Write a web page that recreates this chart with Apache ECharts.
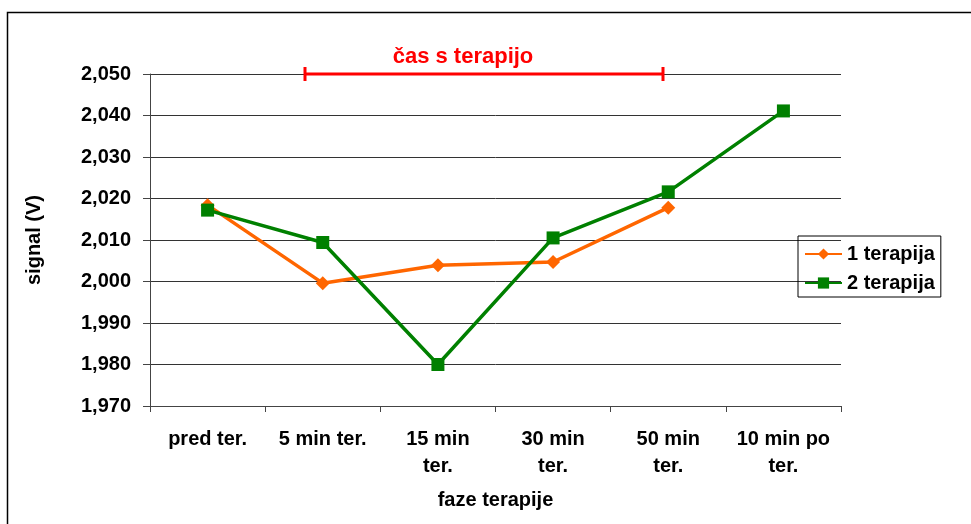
<!DOCTYPE html>
<html><head><meta charset="utf-8">
<script src="https://cdn.jsdelivr.net/npm/echarts@6/dist/echarts.min.js"></script>
<style>html,body{margin:0;padding:0;background:#fff}#c{width:971px;height:524px}</style>
</head><body><div id="c"></div>
<script>
var categories = ['pred ter.', '5 min ter.', '15 min\nter.', '30 min\nter.', '50 min\nter.', '10 min po\nter.'];
var series1Name = '1 terapija';
var series1 = [2.0184, 1.9996, 2.0039, 2.0047, 2.0178, null];
var series2Name = '2 terapija';
var series2 = [2.0172, 2.0094, 1.9800, 2.0105, 2.0216, 2.0411];
var yTicks = {min: 1.97, max: 2.05, interval: 0.01};
var annotationText = 'čas s terapijo';

var chart = echarts.init(document.getElementById('c'), null, {renderer: 'canvas'});
var font = 'Liberation Sans, Arial, sans-serif';
chart.setOption({
  animation: false,
  backgroundColor: '#fff',
  grid: {left: 150, right: 130, top: 74, bottom: 118, containLabel: false},
  legend: {
    orient: 'vertical', left: 798, top: 236,
    borderColor: '#000', borderWidth: 1, padding: [8, 6, 4, 6],
    itemWidth: 37, itemHeight: 14, itemGap: 9, itemTextGap: 6,
    textStyle: {fontFamily: font, fontWeight: 'bold', fontSize: 20, color: '#000', width: 96, overflow: 'none'},
    data: [series1Name, series2Name]
  },
  xAxis: {
    type: 'category', data: categories, boundaryGap: true,
    name: 'faze terapije', nameLocation: 'middle', nameGap: 84,
    nameTextStyle: {fontFamily: font, fontWeight: 'bold', fontSize: 20, color: '#000'},
    axisLine: {lineStyle: {color: '#444', width: 1}},
    axisTick: {show: true, length: 6, lineStyle: {color: '#444'}},
    axisLabel: {fontFamily: font, fontWeight: 'bold', fontSize: 20, color: '#000', margin: 20, lineHeight: 27, interval: 0}
  },
  yAxis: {
    type: 'value', min: yTicks.min, max: yTicks.max, interval: yTicks.interval,
    name: 'signal (V)', nameLocation: 'middle', nameGap: 106, nameRotate: 90,
    nameTextStyle: {fontFamily: font, fontWeight: 'bold', fontSize: 20, color: '#000'},
    axisLine: {show: true, lineStyle: {color: '#444', width: 1}},
    axisTick: {show: true, length: 7, inside: false, lineStyle: {color: '#444'}},
    splitLine: {show: true, lineStyle: {color: '#333', width: 1}},
    axisLabel: {fontFamily: font, fontWeight: 'bold', fontSize: 20, color: '#000', margin: 19,
      formatter: function (v) { return v.toFixed(3).replace('.', ','); }}
  },
  series: [
    {name: series1Name, type: 'line', data: series1, symbol: 'diamond', symbolSize: 14,
     lineStyle: {color: '#FF6600', width: 3.5}, itemStyle: {color: '#FF6600'}, z: 2},
    {name: series2Name, type: 'line', data: series2, symbol: 'rect', symbolSize: 13,
     lineStyle: {color: '#008000', width: 3.5}, itemStyle: {color: '#008000'}, z: 3}
  ],
  graphic: [
    {type: 'rect', shape: {x: 7.5, y: 12.5, width: 1000, height: 600}, style: {fill: 'none', stroke: '#000', lineWidth: 1.5}, silent: true},
    {type: 'line', shape: {x1: 305, y1: 74, x2: 663, y2: 74}, style: {stroke: '#FF0000', lineWidth: 3}, z: 10},
    {type: 'line', shape: {x1: 305, y1: 67, x2: 305, y2: 81}, style: {stroke: '#FF0000', lineWidth: 3}, z: 10},
    {type: 'line', shape: {x1: 663, y1: 67, x2: 663, y2: 81}, style: {stroke: '#FF0000', lineWidth: 3}, z: 10},
    {type: 'text', x: 463, y: 57, style: {text: annotationText, fill: '#FF0000', font: 'bold 22px ' + font, textAlign: 'center', textVerticalAlign: 'middle'}, z: 10}
  ]
});
</script></body></html>
